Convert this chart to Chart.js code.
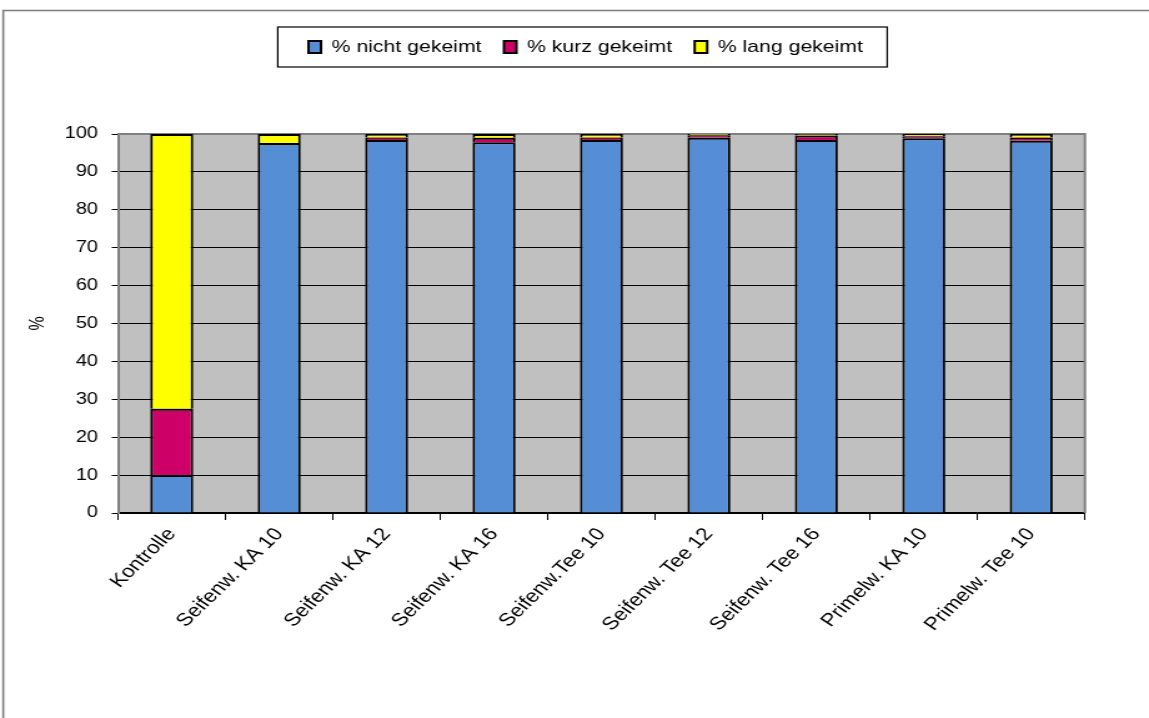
<!DOCTYPE html>
<html>
<head>
<meta charset="utf-8">
<script src="https://cdn.jsdelivr.net/npm/chart.js@4/dist/chart.umd.min.js"></script>
<style>
  html, body { margin: 0; padding: 0; background: #fff; overflow: hidden; }
  /* the chart is laid out on a narrower canvas and widened to fill the page */
  #wrap { width: 920px; height: 718px; transform: scaleX(1.2489); transform-origin: 0 0; }
  canvas { display: block; }
</style>
</head>
<body>
<div id="wrap"><canvas id="c" width="920" height="718"></canvas></div>
<script>
const categories = [
  'Kontrolle', 'Seifenw. KA 10', 'Seifenw. KA 12', 'Seifenw. KA 16',
  'Seifenw.Tee 10', 'Seifenw. Tee 12', 'Seifenw. Tee 16', 'Primelw. KA 10', 'Primelw. Tee 10'
];
const nichtGekeimt = [10.0, 97.6, 98.4, 97.8, 98.4, 99.0, 98.4, 98.9, 98.2];
const kurzGekeimt  = [17.5,  0.0,  0.7,  1.2,  0.7,  0.7,  1.2,  0.5,  0.9];
const langGekeimt  = [72.5,  2.4,  0.9,  1.0,  0.9,  0.3,  0.4,  0.6,  0.9];
const yTicks = [0, 10, 20, 30, 40, 50, 60, 70, 80, 90, 100];

const FONT = 'Liberation Sans, Arial, sans-serif';

// legend frame edges on the canvas
const LEGEND_BOX = { left: 222.4, right: 710.4 };

// background, plot frame, outer frame and the boxed legend
const chartFrame = {
  id: 'chartFrame',
  afterLayout(chart) {
    const lg = chart.legend;
    const h = lg.height;
    const mid = 469;
    lg.left = mid - 270;
    lg.right = mid + 270;
    lg.width = lg.right - lg.left;
    lg.top = 20.5;
    lg.bottom = lg.top + h;
  },
  beforeDraw(chart) {
    const { ctx, chartArea: a } = chart;
    ctx.save();
    ctx.fillStyle = '#ffffff';
    ctx.fillRect(0, 0, chart.width, chart.height);
    ctx.fillStyle = '#c0c0c0';
    ctx.fillRect(a.left, a.top, a.right - a.left, a.bottom - a.top);
    ctx.strokeStyle = '#808080';
    ctx.lineWidth = 1.6;
    ctx.strokeRect(2.6, 10.5, chart.width + 20, chart.height + 20);
    ctx.restore();
  },
  beforeDatasetsDraw(chart) {
    const { ctx, chartArea: a } = chart;
    ctx.save();
    ctx.strokeStyle = '#808080';
    ctx.lineWidth = 2;
    ctx.beginPath();
    ctx.moveTo(a.left, a.top);
    ctx.lineTo(a.right, a.top);
    ctx.lineTo(a.right, a.bottom);
    ctx.stroke();
    ctx.restore();
  },
  afterDraw(chart) {
    const { ctx } = chart;
    const hb = chart.legend.legendHitBoxes;
    if (!hb || !hb.length) return;
    const y0 = hb[0].top - 11.5;
    const y1 = hb[0].top + hb[0].height + 11.5;
    ctx.save();
    ctx.strokeStyle = '#000';
    ctx.lineWidth = 1.2;
    ctx.strokeRect(LEGEND_BOX.left, y0, LEGEND_BOX.right - LEGEND_BOX.left, y1 - y0);
    ctx.restore();
  }
};

const barStyle = { borderColor: '#000000', borderWidth: 2, barPercentage: 0.4, categoryPercentage: 1.0 };

new Chart(document.getElementById('c'), {
  type: 'bar',
  data: {
    labels: categories,
    datasets: [
      { label: '% nicht gekeimt', data: nichtGekeimt, backgroundColor: '#558ed5', ...barStyle },
      { label: '% kurz gekeimt',  data: kurzGekeimt,  backgroundColor: '#cc0066', ...barStyle },
      { label: '% lang gekeimt',  data: langGekeimt,  backgroundColor: '#ffff00', ...barStyle }
    ]
  },
  options: {
    responsive: false,
    animation: false,
    devicePixelRatio: 1,
    layout: { padding: { top: 89, right: 51.3, bottom: 0, left: 0 } },
    plugins: {
      legend: {
        position: 'top',
        labels: {
          color: '#000',
          font: { family: FONT, size: 17 },
          boxWidth: 10,
          boxHeight: 12,
          padding: 18
        }
      },
      tooltip: { enabled: false }
    },
    scales: {
      x: {
        stacked: true,
        afterFit(s) { s.height = 205; },
        grid: { drawOnChartArea: false, offset: true, tickLength: 7, tickColor: '#000', lineWidth: 1 },
        border: { color: '#000', width: 2 },
        ticks: {
          color: '#000',
          font: { family: FONT, size: 18 },
          minRotation: 50,
          maxRotation: 50,
          autoSkip: false,
          padding: 4
        }
      },
      y: {
        stacked: true,
        min: 0,
        max: 100,
        afterFit(s) { s.width = 94.5; },
        afterBuildTicks(s) { s.ticks = yTicks.map(v => ({ value: v })); },
        grid: { color: '#000', lineWidth: 1, tickLength: 5, tickColor: '#000' },
        border: { color: '#808080', width: 2 },
        ticks: { color: '#000', font: { family: FONT, size: 16 }, padding: 11 },
        title: {
          display: true,
          text: '%',
          color: '#000',
          font: { family: FONT, size: 16 },
          padding: { top: 21, bottom: 0 }
        }
      }
    }
  },
  plugins: [chartFrame]
});
</script>
</body>
</html>
